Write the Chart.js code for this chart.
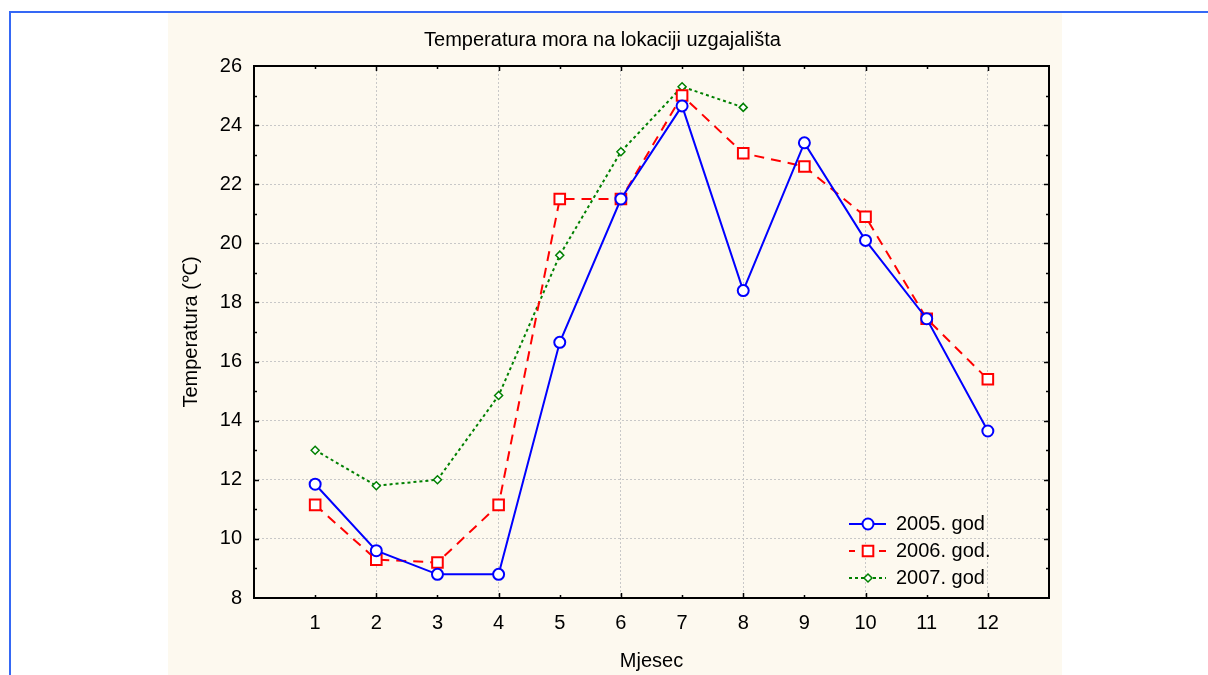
<!DOCTYPE html>
<html>
<head>
<meta charset="utf-8">
<script src="https://cdn.jsdelivr.net/npm/chart.js@4.4.1/dist/chart.umd.min.js"></script>
<style>
    html, body { margin: 0; padding: 0; background: #fff; }
    body { width: 1208px; height: 675px; position: relative; overflow: hidden; }
    #frame { position: absolute; left: 9px; top: 11px; right: 0; bottom: 0; border-top: 2px solid #3568f5; border-left: 2px solid #3568f5; }
    #panel { position: absolute; left: 168px; top: 13px; width: 894px; height: 662px; background: #fdf9ef; }
    #wrap { position: absolute; left: 156px; top: 14px; width: 894px; height: 661px; }
</style>
</head>
<body>
<div id="frame"></div>
<div id="panel"></div>
<div id="wrap"><canvas id="tempChart" width="894" height="661"></canvas></div>
<script>
// data
const months = [1, 2, 3, 4, 5, 6, 7, 8, 9, 10, 11, 12];
const temp2005 = [11.85, 9.6, 8.8, 8.8, 16.65, 21.5, 24.65, 18.4, 23.4, 20.1, 17.45, 13.65];
const temp2006 = [11.15, 9.3, 9.2, 11.15, 21.5, 21.5, 25.0, 23.05, 22.6, 20.9, 17.45, 15.4];
const temp2007 = [13.0, 11.8, 12.0, 14.85, 19.6, 23.1, 25.3, 24.6];
const seriesLabels = ['2005. god', '2006. god.', '2007. god'];
const yTicks = [8, 10, 12, 14, 16, 18, 20, 22, 24, 26];

const FONT = "'Liberation Sans', Arial, sans-serif";
Chart.defaults.font.family = FONT;
Chart.defaults.font.size = 20;
Chart.defaults.color = '#000';

const toPoints = (vals) => vals.map((v, i) => ({ x: months[i], y: v }));

// frame + inward tick marks (statistica style)
const framePlugin = {
    id: 'frame',
    afterDraw(chart) {
        const { ctx, chartArea: a, scales: { x, y } } = chart;
        ctx.save();
        ctx.strokeStyle = '#000';
        ctx.lineWidth = 1.5;
        const seg = (x1, y1, x2, y2) => { ctx.beginPath(); ctx.moveTo(x1, y1); ctx.lineTo(x2, y2); ctx.stroke(); };
        months.forEach(v => {
            const px = Math.round(x.getPixelForValue(v)) + 0.5;
            const len = v % 2 ? 3 : 5;
            seg(px, a.bottom, px, a.bottom - len);
            seg(px, a.top, px, a.top + len);
        });
        for (let v = yTicks[0] + 1; v < yTicks[yTicks.length - 1]; v++) {
            const py = Math.round(y.getPixelForValue(v)) + 0.5;
            const len = v % 2 ? 3 : 5;
            seg(a.left, py, a.left + len, py);
            seg(a.right, py, a.right - len, py);
        }
        ctx.lineWidth = 2;
        ctx.strokeRect(a.left, a.top, a.width, a.height);
        ctx.restore();
    }
};

// legend inside the plot, bottom right
const insideLegend = {
    id: 'insideLegend',
    afterDraw(chart) {
        const { ctx, chartArea: a } = chart;
        const rows = [74, 47, 20];
        ctx.save();
        chart.data.datasets.forEach((ds, i) => {
            const yy = a.bottom - rows[i];
            const x1 = a.right - 200, x2 = a.right - 163, xm = a.right - 181;
            ctx.strokeStyle = ds.borderColor;
            ctx.lineWidth = ds.borderWidth;
            ctx.setLineDash(ds.borderDash || []);
            ctx.lineDashOffset = ds.legendDashOffset || 0;
            ctx.beginPath(); ctx.moveTo(x1, yy); ctx.lineTo(x2, yy); ctx.stroke();
            ctx.setLineDash([]);
            ctx.fillStyle = '#fff';
            ctx.lineWidth = ds.pointBorderWidth;
            const r = ds.pointRadius;
            ctx.beginPath();
            if (ds.pointStyle === 'circle') {
                ctx.arc(xm, yy, r, 0, Math.PI * 2);
            } else if (ds.pointStyle === 'rect') {
                const s = r * Math.SQRT1_2;
                ctx.rect(xm - s, yy - s, 2 * s, 2 * s);
            } else {
                ctx.moveTo(xm, yy - r); ctx.lineTo(xm + r, yy); ctx.lineTo(xm, yy + r); ctx.lineTo(xm - r, yy); ctx.closePath();
            }
            ctx.fill(); ctx.stroke();
            ctx.fillStyle = '#000';
            ctx.font = '20px ' + FONT;
            ctx.textBaseline = 'middle';
            ctx.textAlign = 'left';
            ctx.fillText(seriesLabels[i], a.right - 153, yy);
        });
        ctx.restore();
    }
};

new Chart(document.getElementById('tempChart'), {
    type: 'line',
    data: {
        datasets: [{
            label: seriesLabels[0],
            data: toPoints(temp2005),
            borderColor: '#0000ff',
            backgroundColor: '#fff',
            borderWidth: 2,
            pointStyle: 'circle',
            pointRadius: 5.5,
            pointBorderWidth: 2
        }, {
            label: seriesLabels[1],
            data: toPoints(temp2006),
            borderColor: '#ff0000',
            backgroundColor: '#fff',
            borderWidth: 2,
            borderDash: [10, 7],
            legendDashOffset: 4,
            pointStyle: 'rect',
            pointRadius: 7.5,
            pointBorderWidth: 2
        }, {
            label: seriesLabels[2],
            data: toPoints(temp2007),
            borderColor: '#008000',
            backgroundColor: '#fff',
            borderWidth: 2,
            borderDash: [3, 3],
            pointStyle: 'rectRot',
            pointRadius: 4,
            pointBorderWidth: 1.5
        }]
    },
    options: {
        responsive: false,
        animation: false,
        layout: { autoPadding: false, padding: { left: 0, right: 1, top: 0, bottom: 0 } },
        elements: { line: { tension: 0 } },
        plugins: {
            legend: { display: false },
            tooltip: { enabled: false },
            title: {
                display: true,
                text: 'Temperatura mora na lokaciji uzgajališta',
                font: { size: 20, weight: 'normal' },
                color: '#000',
                padding: { top: 14, bottom: 14 }
            }
        },
        scales: {
            x: {
                type: 'linear',
                min: 0,
                max: 13,
                afterFit: (s) => { s.height = 77; s.paddingLeft = 0; s.paddingRight = 0; },
                ticks: {
                    stepSize: 1,
                    autoSkip: false,
                    maxRotation: 0,
                    padding: 0,
                    callback: (v) => months.includes(v) ? String(v) : ''
                },
                grid: {
                    drawTicks: true,
                    tickLength: 13,
                    tickColor: 'rgba(0,0,0,0)',
                    color: (c) => (c.tick && c.tick.value % 2 === 0 && months.includes(c.tick.value)) ? '#c8c8c8' : 'rgba(0,0,0,0)'
                },
                border: { display: false, dash: [2, 2] },
                title: { display: true, text: 'Mjesec', padding: { bottom: 2 } }
            },
            y: {
                min: yTicks[0],
                max: yTicks[yTicks.length - 1],
                afterFit: (s) => { s.width = 98; },
                ticks: { stepSize: 2, padding: 12 },
                grid: { drawTicks: false, color: '#c8c8c8' },
                border: { display: false, dash: [2, 2] },
                title: { display: true, text: 'Temperatura (℃)', padding: { top: 23 } }
            }
        }
    },
    plugins: [framePlugin, insideLegend]
});
</script>
</body>
</html>
